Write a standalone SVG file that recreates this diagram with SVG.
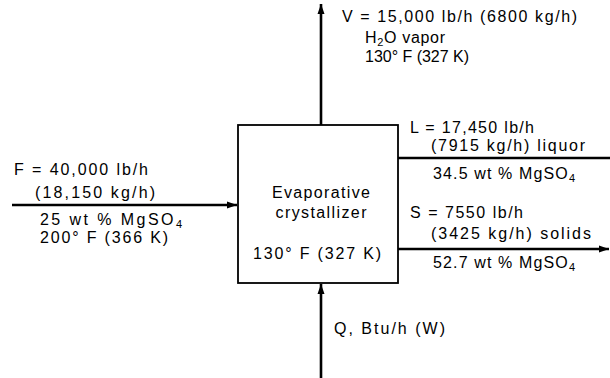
<svg xmlns="http://www.w3.org/2000/svg" width="610" height="378" viewBox="0 0 610 378">
<style>
text{font-family:"Liberation Sans",Arial,sans-serif;font-size:16px;fill:#000}
.ln{stroke:#000;stroke-width:2.6;fill:none}
.sub{font-size:11px}
</style>
<defs>
<marker id="ah" viewBox="0 0 10 10" refX="10" refY="5" markerWidth="4" markerHeight="4" orient="auto" markerUnits="strokeWidth">
<path d="M0,1.5 L10,5 L0,8.5 Z" fill="#000"/>
</marker>
</defs>
<g id="connectors">
<line class="ln" x1="12" y1="205" x2="237" y2="205" marker-end="url(#ah)"/>
<line class="ln" x1="321" y1="125" x2="321" y2="4" marker-end="url(#ah)"/>
<line class="ln" x1="321" y1="378" x2="321" y2="284" marker-end="url(#ah)"/>
<line class="ln" x1="398" y1="158" x2="610" y2="158"/>
<line class="ln" x1="398" y1="249" x2="609" y2="249" marker-end="url(#ah)"/>
</g>
<g id="crystallizer">
<rect x="238" y="125" width="160" height="158" fill="#fff" stroke="#000" stroke-width="1.8"/>
<text x="321" y="198" text-anchor="middle" textLength="98">Evaporative</text>
<text x="321" y="218" text-anchor="middle" textLength="91">crystallizer</text>
<text x="317" y="259" text-anchor="middle" textLength="128">130° F (327 K)</text>
</g>
<g id="feed">
<text x="14" y="175" textLength="134">F = 40,000 lb/h</text>
<text x="35" y="198" textLength="120">(18,150 kg/h)</text>
<text x="40" y="225" textLength="142">25 wt % MgSO<tspan class="sub" dy="3">4</tspan></text>
<text x="40" y="243" textLength="128">200° F (366 K)</text>
</g>
<g id="vapor">
<text x="342" y="22" textLength="235">V = 15,000 lb/h (6800 kg/h)</text>
<text x="365" y="43" textLength="80">H<tspan class="sub" dy="3">2</tspan><tspan dy="-3">O vapor</tspan></text>
<text x="365" y="62" textLength="104">130° F (327 K)</text>
</g>
<g id="liquor">
<text x="410" y="133" textLength="124">L = 17,450 lb/h</text>
<text x="431" y="151" textLength="154">(7915 kg/h) liquor</text>
<text x="433" y="179" textLength="142">34.5 wt % MgSO<tspan class="sub" dy="3">4</tspan></text>
</g>
<g id="solids">
<text x="410" y="218" textLength="113">S = 7550 lb/h</text>
<text x="431" y="239" textLength="160">(3425 kg/h) solids</text>
<text x="433" y="268" textLength="142">52.7 wt % MgSO<tspan class="sub" dy="3">4</tspan></text>
</g>
<g id="heat">
<text x="334" y="334" textLength="111">Q, Btu/h (W)</text>
</g>
</svg>
